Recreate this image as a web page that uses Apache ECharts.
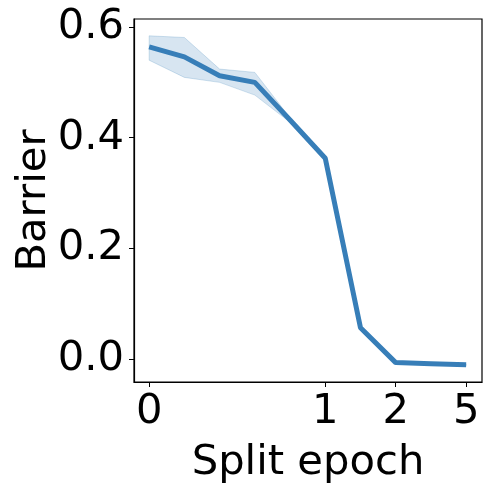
<!DOCTYPE html>
<html><head><meta charset="utf-8">
<script src="https://cdn.jsdelivr.net/npm/echarts@6/dist/echarts.min.js"></script>
<style>html,body{margin:0;padding:0;background:#fff}#c{width:491px;height:491px}</style>
</head><body><div id="c"></div>
<script>
const positions = [0,1,2,3,4,5,6,7,8,9];
const meanValues = [0.564,0.546,0.512,0.500,0.432,0.363,0.057,-0.006,-0.008,-0.010];
const upperValues = [0.584,0.581,0.524,0.518,0.436,0.364,0.058,-0.005,-0.007,-0.009];
const lowerValues = [0.540,0.509,0.500,0.477,0.428,0.362,0.056,-0.007,-0.009,-0.011];
const xTickPositions = [0,5,7,9];
const xTickLabels = ['0','1','2','5'];
const yTickValues = [0,0.2,0.4,0.6];

const FONT = 'DejaVu Sans';
const chart = echarts.init(document.getElementById('c'), null, {renderer:'canvas'});
chart.setOption({
  animation:false,
  grid:{left:134,top:19,width:348,height:363,containLabel:false,outerBoundsMode:'none'},
  xAxis:{
    type:'value', min:-0.43, max:9.45, scale:true,
    axisLine:{onZero:false,lineStyle:{color:'#000',width:1.2}},
    axisTick:{show:true,length:5,customValues:xTickPositions,lineStyle:{color:'#000',width:1}},
    axisLabel:{customValues:xTickPositions,margin:9,color:'#000',fontFamily:FONT,fontSize:41.7,
      formatter:v=>{const i=xTickPositions.indexOf(Math.round(v));return i>=0?xTickLabels[i]:'';}},
    splitLine:{show:false},
    name:'Split epoch', nameLocation:'middle', nameGap:60, nameMoveOverlap:false,
    nameTextStyle:{color:'#000',fontFamily:FONT,fontSize:41.7}
  },
  yAxis:{
    type:'value', min:-0.041, max:0.6144, scale:true,
    axisLine:{show:true,onZero:false,lineStyle:{color:'#000',width:1.2}},
    axisTick:{show:true,length:5,customValues:yTickValues,lineStyle:{color:'#000',width:1}},
    axisLabel:{customValues:yTickValues,margin:10,color:'#000',fontFamily:FONT,fontSize:41.7,
      formatter:v=>v.toFixed(1)},
    splitLine:{show:false},
    name:'Barrier', nameLocation:'middle', nameGap:79, nameRotate:90, nameMoveOverlap:false,
    nameTextStyle:{color:'#000',fontFamily:FONT,fontSize:41.7}
  },
  series:[
    {type:'custom',silent:true,z:1,
     data:positions.map((x,i)=>[x,lowerValues[i],upperValues[i]]),
     encode:{x:0,y:[1,2]},
     renderItem:function(params,api){
       if(params.dataIndex!==0) return null;
       const pts=[];
       for(let i=0;i<positions.length;i++) pts.push(api.coord([positions[i],upperValues[i]]));
       for(let i=positions.length-1;i>=0;i--) pts.push(api.coord([positions[i],lowerValues[i]]));
       return {type:'polygon',shape:{points:pts},
         style:{fill:'rgba(55,126,184,0.2)',stroke:'rgba(55,126,184,0.22)',lineWidth:1}};
     }},
    {type:'line',data:positions.map((x,i)=>[x,meanValues[i]]),symbol:'none',
     lineStyle:{color:'#377eb8',width:5},z:5}
  ],
  graphic:[{type:'rect',shape:{x:134,y:19,width:348,height:363},
    style:{fill:'none',stroke:'#000',lineWidth:1.2},z:10,silent:true}]
});
</script></body></html>
